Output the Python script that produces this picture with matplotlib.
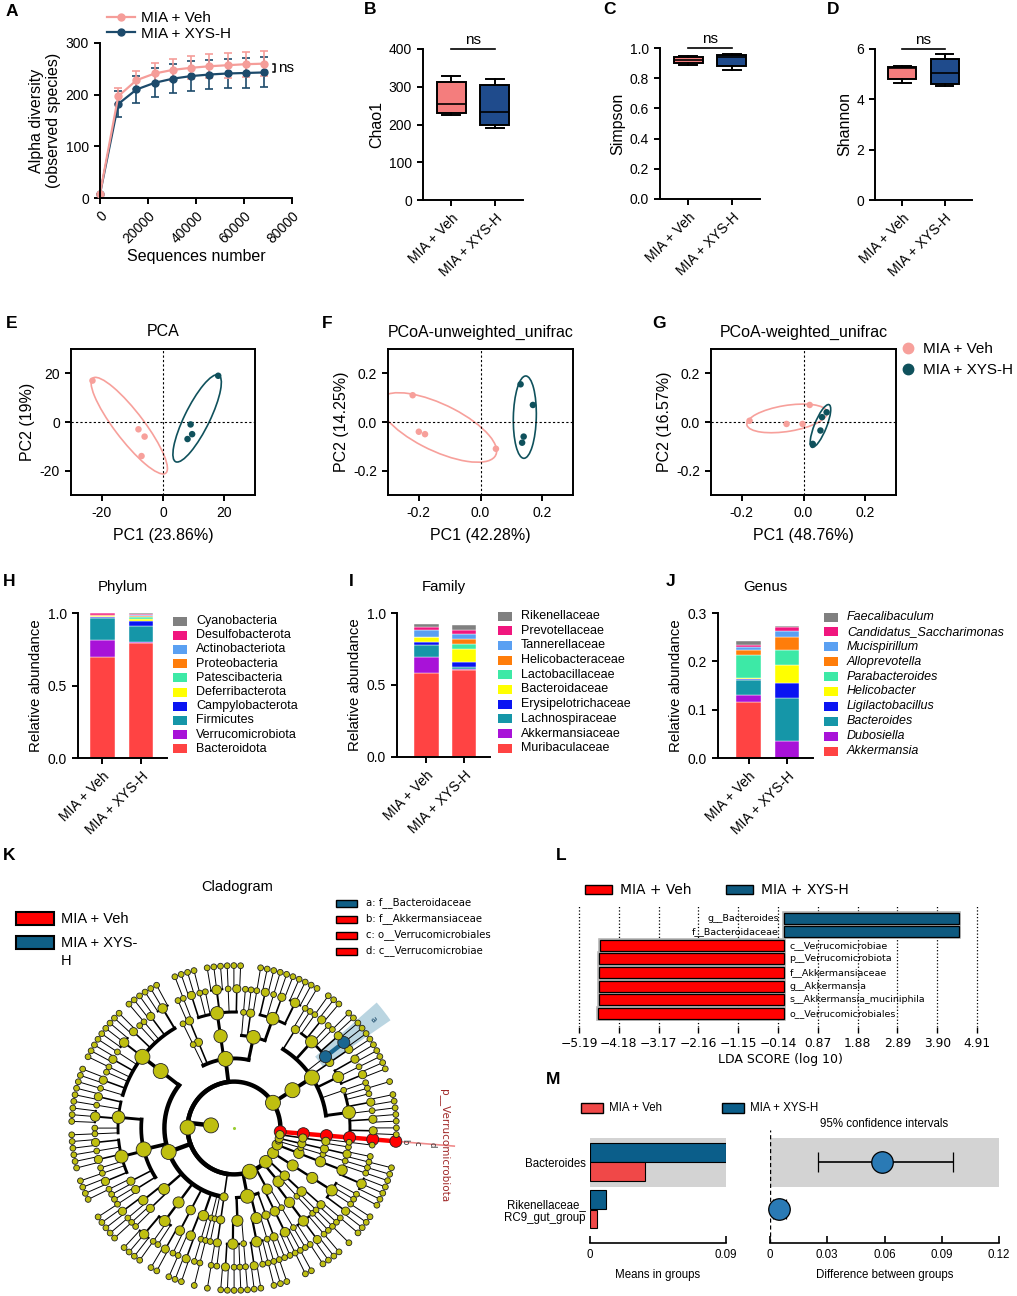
import numpy as np
import matplotlib
matplotlib.use("Agg")
import matplotlib.pyplot as plt
from matplotlib.patches import Ellipse, Rectangle, Wedge
from matplotlib.lines import Line2D

plt.rcParams["font.family"] = ["Liberation Sans", "DejaVu Sans"]
plt.rcParams["axes.unicode_minus"] = False
plt.rcParams["axes.linewidth"] = 1.4
plt.rcParams["xtick.major.width"] = 1.4
plt.rcParams["ytick.major.width"] = 1.4
plt.rcParams["xtick.major.size"] = 4.5
plt.rcParams["ytick.major.size"] = 4.5

W, H = 1017, 1296

# ---------------- data ----------------
groups = ["MIA + Veh", "MIA + XYS-H"]

# A: rarefaction
seq_number = [0, 7600, 15200, 22800, 30400, 38000, 45600, 53200, 60800, 68400]
obs_veh = [8, 197, 228, 241, 248, 252, 255, 257, 259, 260]
obs_veh_sd = [0, 16, 18, 20, 21, 22, 23, 24, 24, 24]
obs_xys = [8, 182, 210, 223, 231, 236, 239, 241, 242, 243]
obs_xys_sd = [0, 25, 27, 28, 28, 29, 29, 29, 29, 29]

# B-D: whislo, q1, median, q3, whishi
chao1_veh = [225, 230, 253, 313, 328]
chao1_xys = [192, 198, 234, 304, 321]
simpson_veh = [0.887, 0.900, 0.923, 0.940, 0.949]
simpson_xys = [0.856, 0.878, 0.938, 0.951, 0.962]
shannon_veh = [4.64, 4.79, 5.23, 5.30, 5.34]
shannon_xys = [4.52, 4.62, 5.06, 5.60, 5.79]

# E-G: ordination scores
pca_veh_x = [-23, -8, -6, -7]
pca_veh_y = [17, -3, -6, -14]
pca_xys_x = [18, 9, 9.5, 8]
pca_xys_y = [19, -1, -5, -7]
unw_veh_x = [-0.22, -0.20, -0.18, 0.05]
unw_veh_y = [0.11, -0.04, -0.05, -0.11]
unw_xys_x = [0.13, 0.17, 0.14, 0.135]
unw_xys_y = [0.155, 0.07, -0.06, -0.085]
wu_veh_x = [-0.175, -0.055, -0.003, 0.02]
wu_veh_y = [0.005, -0.008, -0.008, 0.07]
wu_xys_x = [0.075, 0.06, 0.055, 0.03]
wu_xys_y = [0.04, 0.02, -0.035, -0.09]

# H-J: relative abundance, bottom to top
phylum_names = ["Bacteroidota", "Verrucomicrobiota", "Firmicutes", "Campylobacterota",
                "Deferribacterota", "Patescibacteria", "Proteobacteria",
                "Actinobacteriota", "Desulfobacterota", "Cyanobacteria"]
phylum_veh = [0.700, 0.112, 0.155, 0.003, 0.006, 0.004, 0.005, 0.004, 0.008, 0.003]
phylum_xys = [0.795, 0.002, 0.115, 0.035, 0.014, 0.010, 0.008, 0.008, 0.008, 0.005]

family_names = ["Muribaculaceae", "Akkermansiaceae", "Lachnospiraceae", "Erysipelotrichaceae",
                "Bacteroidaceae", "Lactobacillaceae", "Helicobacteraceae", "Tannerellaceae",
                "Prevotellaceae", "Rikenellaceae"]
family_veh = [0.582, 0.115, 0.078, 0.027, 0.028, 0.002, 0.003, 0.050, 0.016, 0.023]
family_xys = [0.606, 0.002, 0.014, 0.037, 0.094, 0.030, 0.037, 0.033, 0.032, 0.034]

genus_names = ["Akkermansia", "Dubosiella", "Bacteroides", "Ligilactobacillus", "Helicobacter",
               "Parabacteroides", "Alloprevotella", "Mucispirillum",
               "Candidatus_Saccharimonas", "Faecalibaculum"]
genus_veh = [0.115, 0.016, 0.031, 0.002, 0.002, 0.048, 0.009, 0.006, 0.005, 0.009]
genus_xys = [0.0005, 0.034, 0.0895, 0.031, 0.038, 0.030, 0.027, 0.012, 0.010, 0.0005]

# K: cladogram (phylum > class > order > family > genus; int = number of leaf children)
clado_tree = [
    [[[[1]]]],                                                              # Verrucomicrobiota
    [[[[2, 2, 1, 2, 0, 1], [0], [2, 1, 2], [2], [1], [2, 1, 0, 2, 1], [0, 1]]]],  # Bacteroidota
    [                                                                       # Firmicutes
        [[[3, 2, 1, 2], [1, 0], [0]], [[2, 1, 3, 0, 1, 2]], [[1, 0]], [0]],
        [[[3, 2, 1, 0, 2, 3, 1, 2, 1, 0, 2, 1]],
         [[2, 1, 3, 0, 1], [2, 1, 2, 0, 1, 2], [1, 0], [0, 1]],
         [[2, 1], [1, 0]], [[3, 1, 0]], [[2, 0]], [[1, 2], [0]], [[1]], [0]],
        [[[1, 0]]],
    ],
    [[[[2, 1, 1], [1]], [[2, 0, 1], [1]], [[1, 0]]], [[[0, 1, 1]], [[0]]]],  # Proteobacteria
    [[[[1, 2, 1]], [[0]]], [[[1], [0, 1]]]],                                # Actinobacteriota
    [[[[2, 1, 0, 1]]]],                                                     # Desulfobacterota
    [[[[3, 1]]]],                                                           # Campylobacterota
    [[[[1]]]],                                                              # Deferribacterota
    [[[[1, 0]]]],                                                           # Patescibacteria
    [[[0, 1]]],                                                             # Cyanobacteria
]
clado_labels = ["a: f__Bacteroidaceae", "b: f__Akkermansiaceae",
                "c: o__Verrucomicrobiales", "d: c__Verrucomicrobiae"]

# L: LEfSe
lda_names = ["g__Bacteroides", "f__Bacteroidaceae", "c__Verrucomicrobiae",
             "p__Verrucomicrobiota", "f__Akkermansiaceae", "g__Akkermansia",
             "s__Akkermansia_muciniphila", "o__Verrucomicrobiales"]
lda_scores = [4.46, 4.46, -4.66, -4.67, -4.68, -4.68, -4.69, -4.70]
lda_ticks = [-5.19, -4.18, -3.17, -2.16, -1.15, -0.14, 0.87, 1.88, 2.89, 3.90, 4.91]

# M: STAMP
stamp_names = ["Bacteroides", "Rikenellaceae_\nRC9_gut_group"]
stamp_mean_veh = [0.0364, 0.0046]
stamp_mean_xys = [0.0900, 0.0104]
stamp_diff = [0.0586, 0.0049]
stamp_lo = [0.0252, 0.0015]
stamp_hi = [0.0959, 0.0085]

# ---------------- colours ----------------
VEH = "#F59D99"
XYS = "#1C4A6B"
BOX_VEH = "#F47D7D"
BOX_XYS = "#1F4B8C"
PC_VEH = "#F7A09B"
PC_XYS = "#0F515C"
STACK = ["#FF4343", "#A812D8", "#1596A8", "#0A14F2", "#FFFF00",
         "#3DE9A6", "#FF7D0A", "#5AA0F2", "#F0167E", "#808080"]
LDA_VEH = "#FF0000"
LDA_XYS = "#0E5A80"
M_VEH = "#F04848"
M_XYS = "#0B5E8A"
M_PT = "#2A7AB5"
CLADE = "#BFBF10"

fig = plt.figure(figsize=(W / 100, H / 100), dpi=100)


def box(l, t, r, b):
    return fig.add_axes([l / W, 1 - b / H, (r - l) / W, (b - t) / H])


ov = fig.add_axes([0, 0, 1, 1])
ov.set_zorder(10)
ov.set_xlim(0, W)
ov.set_ylim(H, 0)
ov.axis("off")


def clean(ax):
    ax.spines["top"].set_visible(False)
    ax.spines["right"].set_visible(False)


def rot_labels(ax, labels, size=10):
    ax.set_xticklabels(labels, rotation=45, ha="right", rotation_mode="anchor", fontsize=size)


# ---------------- A ----------------
axA = box(100, 43, 292, 198)
for ys, sd, c in [(obs_xys, obs_xys_sd, XYS), (obs_veh, obs_veh_sd, VEH)]:
    cont = axA.errorbar(seq_number, ys, yerr=sd, color=c, marker="o", ms=5, lw=1.6,
                        capsize=3, elinewidth=1.2, capthick=1.2)
    for art in cont.get_children():
        art.set_clip_on(False)
axA.set_xlim(0, 80000)
axA.set_ylim(0, 300)
axA.set_xticks([0, 20000, 40000, 60000, 80000])
rot_labels(axA, ["0", "20000", "40000", "60000", "80000"])
axA.set_yticks([0, 100, 200, 300])
axA.tick_params(labelsize=10)
clean(axA)
axA.set_xlabel("Sequences number", fontsize=11.5, labelpad=2)
axA.set_ylabel("Alpha diversity\n(observed species)", fontsize=11.5, labelpad=3)
x_end = seq_number[-1] + 3500
axA.plot([x_end, x_end + 1200, x_end + 1200, x_end],
         [obs_veh[-1], obs_veh[-1], obs_xys[-1], obs_xys[-1]], color="black", lw=1.1, clip_on=False)
axA.text(x_end + 2200, (obs_veh[-1] + obs_xys[-1]) / 2, "ns", fontsize=11, va="center")
handlesA = [Line2D([], [], color=VEH, marker="o", ms=5, lw=1.6),
            Line2D([], [], color=XYS, marker="o", ms=5, lw=1.6)]
fig.legend(handlesA, groups, loc="upper left", bbox_to_anchor=(107 / W, 1 - 11 / H),
           frameon=False, fontsize=11, handlelength=1.8, handletextpad=0.4,
           labelspacing=0.12, borderpad=0, borderaxespad=0)


# ---------------- B-D ----------------
def alpha_box(rect, veh, xys, ticks, ticklabels, ylabel):
    ax = box(*rect)
    stats = [dict(whislo=s[0], q1=s[1], med=s[2], q3=s[3], whishi=s[4], fliers=[])
             for s in (veh, xys)]
    bp = ax.bxp(stats, positions=[1, 2], widths=0.66, patch_artist=True, showfliers=False,
                boxprops=dict(lw=1.4, edgecolor="black"),
                medianprops=dict(color="black", lw=1.2),
                whiskerprops=dict(lw=1.4), capprops=dict(lw=1.4), capwidths=0.42)
    for patch, c in zip(bp["boxes"], [BOX_VEH, BOX_XYS]):
        patch.set_facecolor(c)
    ax.set_xlim(0.35, 2.65)
    ax.set_ylim(0, ticks[-1])
    ax.set_yticks(ticks)
    ax.set_yticklabels(ticklabels, fontsize=10)
    ax.set_xticks([1, 2])
    rot_labels(ax, groups)
    clean(ax)
    ax.set_ylabel(ylabel, fontsize=11.5, labelpad=3)
    ax.plot([1, 2], [ticks[-1], ticks[-1]], color="black", lw=1.2, clip_on=False)
    ax.annotate("ns", xy=(1.5, ticks[-1]), xytext=(0, 1.5), textcoords="offset points",
                ha="center", va="bottom", fontsize=11)
    return ax


alpha_box((423, 49, 523, 200), chao1_veh, chao1_xys, [0, 100, 200, 300, 400],
          ["0", "100", "200", "300", "400"], "Chao1")
alpha_box((660, 48, 760, 199), simpson_veh, simpson_xys, [0, 0.2, 0.4, 0.6, 0.8, 1.0],
          ["0.0", "0.2", "0.4", "0.6", "0.8", "1.0"], "Simpson")
alpha_box((875, 49, 972, 200), shannon_veh, shannon_xys, [0, 2, 4, 6],
          ["0", "2", "4", "6"], "Shannon")


# ---------------- E-G ----------------
def conf_ellipse(ax, xs, ys, color):
    pts = np.column_stack([xs, ys])
    center = pts.mean(axis=0)
    vals, vecs = np.linalg.eigh(np.cov(pts.T))
    a = 1.5 * np.sqrt(vals[1])
    b = max(1.6 * np.sqrt(max(vals[0], 0)), 0.22 * a)
    ang = np.degrees(np.arctan2(vecs[1, 1], vecs[0, 1]))
    ax.add_patch(Ellipse(center, 2 * a, 2 * b, angle=ang, fill=False, ec=color, lw=1.2))


def pc_panel(rect, title, xlabel, ylabel, lim, ticks, ticklabels, veh, xys):
    ax = box(*rect)
    ax.axhline(0, ls=(0, (2, 2)), color="black", lw=0.8)
    ax.axvline(0, ls=(0, (2, 2)), color="black", lw=0.8)
    for (xs, ys), c in [(veh, PC_VEH), (xys, PC_XYS)]:
        ax.scatter(xs, ys, s=22, color=c, edgecolors="none", zorder=3)
        conf_ellipse(ax, xs, ys, c)
    ax.set_xlim(-lim, lim)
    ax.set_ylim(-lim, lim)
    ax.set_xticks(ticks)
    ax.set_xticklabels(ticklabels, fontsize=10)
    ax.set_yticks(ticks)
    ax.set_yticklabels(ticklabels, fontsize=10)
    ax.set_title(title, fontsize=11.5, pad=9)
    ax.set_xlabel(xlabel, fontsize=11.5, labelpad=6)
    ax.set_ylabel(ylabel, fontsize=11.5, labelpad=3)
    return ax


pc_panel((71, 349, 255, 495), "PCA", "PC1 (23.86%)", "PC2 (19%)", 30, [-20, 0, 20],
         ["-20", "0", "20"], (pca_veh_x, pca_veh_y), (pca_xys_x, pca_xys_y))
pc_panel((388, 349, 573, 495), "PCoA-unweighted_unifrac", "PC1 (42.28%)", "PC2 (14.25%)",
         0.3, [-0.2, 0, 0.2], ["-0.2", "0.0", "0.2"], (unw_veh_x, unw_veh_y), (unw_xys_x, unw_xys_y))
pc_panel((711, 349, 896, 495), "PCoA-weighted_unifrac", "PC1 (48.76%)", "PC2 (16.57%)",
         0.3, [-0.2, 0, 0.2], ["-0.2", "0.0", "0.2"], (wu_veh_x, wu_veh_y), (wu_xys_x, wu_xys_y))
handlesG = [Line2D([], [], ls="none", marker="o", ms=7.5, color=PC_VEH),
            Line2D([], [], ls="none", marker="o", ms=7.5, color=PC_XYS)]
fig.legend(handlesG, groups, loc="upper left", bbox_to_anchor=(900 / W, 1 - 342 / H),
           frameon=False, fontsize=11, handlelength=1.0, handletextpad=0.5,
           labelspacing=0.45, borderpad=0, borderaxespad=0)


# ---------------- H-J ----------------
def stack_panel(rect, xlim, title, names, veh, xys, ticks, ticklabels, leg_x, leg_y0, leg_dy,
                italic=False):
    ax = box(*rect)
    bottoms = np.zeros(2)
    for v1, v2, c in zip(veh, xys, STACK):
        vals = np.array([v1, v2])
        ax.bar([1, 2], vals, bottom=bottoms, width=0.64, color=c, edgecolor="white", lw=0.3)
        bottoms += vals
    ax.set_xlim(*xlim)
    ax.set_ylim(0, ticks[-1])
    ax.set_yticks(ticks)
    ax.set_yticklabels(ticklabels, fontsize=10)
    ax.set_xticks([1, 2])
    rot_labels(ax, groups)
    clean(ax)
    ax.set_ylabel("Relative abundance", fontsize=10.8, labelpad=3)
    ax.set_title(title, fontsize=10.8, pad=16)
    for i, (name, c) in enumerate(zip(names[::-1], STACK[::-1])):
        y = leg_y0 + i * leg_dy
        ov.add_patch(Rectangle((leg_x, y - 4.5), 14, 9, color=c, lw=0))
        ov.text(leg_x + 23, y, name, fontsize=9, va="center", ha="left",
                style="italic" if italic else "normal")
    return ax


stack_panel((78, 613, 167, 758), (0.38, 2.67), "Phylum", phylum_names, phylum_veh, phylum_xys,
            [0, 0.5, 1.0], ["0.0", "0.5", "1.0"], 173, 621, 14.2)
stack_panel((397, 613, 490, 757), (0.22, 2.68), "Family", family_names, family_veh, family_xys,
            [0, 0.5, 1.0], ["0.0", "0.5", "1.0"], 498, 616, 14.7)
stack_panel((718, 613, 813, 758), (0.2, 2.68), "Genus", genus_names, genus_veh, genus_xys,
            [0, 0.1, 0.2, 0.3], ["0.0", "0.1", "0.2", "0.3"], 824, 617, 14.9, italic=True)

# ---------------- K: cladogram ----------------
R_STEP = 23.2
CLADO_START = -4.7


def radius(level):
    return R_STEP * (level + 1)


def count_leaves(node):
    if isinstance(node, int):
        return max(node, 1)
    return sum(count_leaves(k) for k in node)


leaf_step = 360.0 / count_leaves(clado_tree)
leaf_pos = [0]


def build(node, level):
    if isinstance(node, int) and node == 0:
        ang = CLADO_START + leaf_pos[0] * leaf_step
        leaf_pos[0] += 1
        return dict(level=level, angle=ang, n=1, kids=[], hl=None)
    src = [0] * node if isinstance(node, int) else node
    kids = [build(k, level + 1) for k in src]
    return dict(level=level, angle=(kids[0]["angle"] + kids[-1]["angle"]) / 2,
                n=sum(k["n"] for k in kids), kids=kids, hl=None)


kingdom = build(clado_tree, 0)


def mark(node, color, deep=True):
    node["hl"] = color
    if deep:
        for k in node["kids"]:
            mark(k, color)


mark(kingdom["kids"][0], "red")
bact_fam = kingdom["kids"][1]["kids"][0]["kids"][0]["kids"][4]
mark(bact_fam, "blue", deep=False)
mark(bact_fam["kids"][0], "blue", deep=False)

HL = {"red": "#FF0000", "blue": "#1A6690"}

axK = box(0, 955, 560, 1296)
axK.set_xlim(-234, 326)
axK.set_ylim(-168, 173)
axK.axis("off")


def pol(r, a):
    t = np.radians(a)
    return r * np.cos(t), r * np.sin(t)


def lw_for(n):
    return min(0.7 + 0.45 * np.log2(n), 3.2)


all_nodes = []


def draw(node):
    all_nodes.append(node)
    if not node["kids"]:
        return
    r_p = radius(node["level"])
    angs = [k["angle"] for k in node["kids"]]
    r_arc = r_p
    if node["level"] == 0:
        r_arc = radius(1)
        x0, y0 = pol(r_p, node["angle"])
        x1, y1 = pol(r_arc, node["angle"])
        axK.plot([x0, x1], [y0, y1], color="black", lw=lw_for(node["n"]), zorder=1,
                 solid_capstyle="butt")
    if len(angs) > 1:
        t = np.linspace(min(angs), max(angs), 200)
        xs, ys = pol(r_arc, t)
        axK.plot(xs, ys, color="black", lw=lw_for(node["n"]), zorder=1)
    for k in node["kids"]:
        x0, y0 = pol(r_arc, k["angle"])
        x1, y1 = pol(radius(k["level"]), k["angle"])
        if k["hl"] and node["hl"] == k["hl"]:
            axK.plot([x0, x1], [y0, y1], color=HL[k["hl"]], lw=3.2, zorder=2)
        else:
            axK.plot([x0, x1], [y0, y1], color="black", lw=lw_for(k["n"]), zorder=1)
        draw(k)


draw(kingdom)

red_ang = kingdom["kids"][0]["angle"]
blue_ang = bact_fam["angle"]
axK.add_patch(Wedge((0, 0), 190, blue_ang - 3.4, blue_ang + 3.4, width=82,
                    color="#A9CBDA", alpha=0.8, zorder=0, lw=0))
rx0, ry0 = pol(radius(6), red_ang)
rx1, ry1 = pol(221, red_ang)
axK.plot([rx0, rx1], [ry0, ry1], color="#F08C8C", lw=1.2, zorder=0)

xs, ys, sizes, cols = [], [], [], []
for nd in all_nodes:
    x, y = pol(radius(nd["level"]), nd["angle"])
    xs.append(x)
    ys.append(y)
    if nd["hl"]:
        d = 12
        cols.append(HL[nd["hl"]])
    else:
        d = 5.8 if nd["n"] == 1 else min(6.0 + 2.2 * np.log2(nd["n"]), 15)
        cols.append(CLADE)
    sizes.append((d * 0.72) ** 2)
axK.scatter(xs, ys, s=sizes, c=cols, edgecolors="#222222", linewidths=0.6, zorder=3)
axK.scatter([0], [0], s=1.5, color="#9ACD32", zorder=3)

tx, ty = pol(176, blue_ang)
axK.text(tx, ty, "a", fontsize=6, family="DejaVu Sans", color="#1A4A6A",
         rotation=blue_ang - 90, ha="center", va="center")
for r_lab, lab in [(171, "b"), (184, "c"), (199, "d")]:
    tx, ty = pol(r_lab, red_ang)
    axK.text(tx, ty, lab, fontsize=6, family="DejaVu Sans", rotation=-90,
             ha="center", va="center", color="#333333")
tx, ty = pol(211, red_ang)
axK.text(tx, ty, "p__Verrucomicrobiota", fontsize=7.5, family="DejaVu Sans",
         color="#A02828", rotation=-90, ha="center", va="center")

ov.text(237, 887, "Cladogram", fontsize=10.5, ha="center", va="center")
for y, c in [(912, HL["red"]), (936, "#0F5F86")]:
    ov.add_patch(Rectangle((16, y), 38, 13, facecolor=c, edgecolor="black", lw=1.5))
ov.text(61, 919, "MIA + Veh", fontsize=10.5, va="center")
ov.text(61, 943, "MIA + XYS-", fontsize=10.5, va="center")
ov.text(61, 961, "H", fontsize=10.5, va="center")
for i, lab in enumerate(clado_labels):
    y = 903 + 16 * i
    c = "#0F5F86" if i == 0 else HL["red"]
    ov.add_patch(Rectangle((336, y - 3.5), 21, 7, facecolor=c, edgecolor="black", lw=1.0))
    ov.text(366, y, lab, fontsize=7.3, family="DejaVu Sans", va="center")

# ---------------- L: LDA ----------------
axL = box(560, 905, 1000, 1027)
ypos = np.arange(len(lda_names))
lda_colors = [LDA_XYS if s > 0 else LDA_VEH for s in lda_scores]
axL.barh(ypos, lda_scores, height=0.8, color="none", edgecolor="#B4B4B4", lw=2.6, zorder=2)
axL.barh(ypos, lda_scores, height=0.8, color=lda_colors, edgecolor="black", lw=0.9, zorder=3)
for y, s, name in zip(ypos, lda_scores, lda_names):
    axL.text(-0.12 if s > 0 else 0.15, y, name, ha="right" if s > 0 else "left", va="center",
             fontsize=6.8, family="DejaVu Sans", zorder=4)
axL.set_xlim(-5.67, 5.49)
axL.set_ylim(8.0, -0.96)
axL.set_xticks(lda_ticks)
axL.set_xticklabels([f"{t:.2f}".replace("-", "\u2212") for t in lda_ticks],
                    fontsize=8.8, family="DejaVu Sans")
axL.set_yticks([])
axL.grid(axis="x", ls=":", color="black", lw=0.9)
axL.set_axisbelow(True)
for sp in axL.spines.values():
    sp.set_visible(False)
axL.tick_params(axis="x", length=4, width=1.0, pad=3)
axL.set_xlabel("LDA SCORE (log 10)", fontsize=9, family="DejaVu Sans", labelpad=2)
for x, c, lab in [(585, LDA_VEH, groups[0]), (726, LDA_XYS, groups[1])]:
    ov.add_patch(Rectangle((x, 885), 27, 9, facecolor=c, edgecolor="black", lw=1.0))
    ov.text(x + 35, 890, lab, fontsize=10, family="DejaVu Sans", va="center")

# ---------------- M: STAMP ----------------
rows = np.arange(len(stamp_names))
axM1 = box(590, 1130, 726, 1243)
axM2 = box(770, 1130, 999, 1243)
for ax in (axM1, axM2):
    for r in rows[::2]:
        ax.axhspan(r - 0.52, r + 0.52, color="#D3D3D3", lw=0, zorder=0)
    ax.set_ylim(1.72, -0.68)
    for side in ("top", "right", "left"):
        ax.spines[side].set_visible(False)
    ax.spines["bottom"].set_linewidth(1.2)
    ax.tick_params(axis="x", direction="in", length=5, width=1.2, labelsize=8.3, pad=4)
axM1.barh(rows - 0.2, stamp_mean_xys, height=0.4, color=M_XYS, edgecolor="black", lw=0.8)
axM1.barh(rows + 0.21, stamp_mean_veh, height=0.4, color=M_VEH, edgecolor="black", lw=0.8)
axM1.set_xlim(0, 0.09)
axM1.set_xticks([0, 0.09])
axM1.set_xticklabels(["0", "0.09"])
axM1.set_yticks(rows)
axM1.set_yticklabels(stamp_names, fontsize=8.3)
axM1.tick_params(axis="y", length=0, pad=3)
axM1.set_xlabel("Means in groups", fontsize=8.3, labelpad=6)

diff = np.array(stamp_diff)
cont = axM2.errorbar(diff, rows, xerr=[diff - np.array(stamp_lo), np.array(stamp_hi) - diff],
                     fmt="o", ms=15.5, mfc=M_PT, mec="black", mew=0.9, ecolor="black",
                     elinewidth=1.2, capsize=7.5, capthick=1.2, zorder=3)
for art in cont.get_children():
    art.set_clip_on(False)
cont[0].set_clip_on(False)
axM2.axvline(0, ls=(0, (3, 2)), color="black", lw=1.0, zorder=1)
axM2.set_xlim(0, 0.12)
axM2.set_xticks([0, 0.03, 0.06, 0.09, 0.12])
axM2.set_xticklabels(["0", "0.03", "0.06", "0.09", "0.12"])
axM2.set_yticks([])
axM2.set_title("95% confidence intervals", fontsize=8.3, pad=2)
axM2.set_xlabel("Difference between groups", fontsize=8.3, labelpad=6)
for x, c, lab in [(581, M_VEH, groups[0]), (722, M_XYS, groups[1])]:
    ov.add_patch(Rectangle((x, 1103), 22, 10, facecolor=c, edgecolor="black", lw=1.0))
    ov.text(x + 28, 1108, lab, fontsize=8.3, va="center")

# ---------------- panel letters ----------------
letters = [("A", 12, 12), ("B", 370, 10), ("C", 609, 10), ("D", 833, 10),
           ("E", 12, 324), ("F", 327, 324), ("G", 659, 324),
           ("H", 9, 581), ("I", 351, 581), ("J", 671, 582),
           ("K", 9, 855), ("L", 561, 856), ("M", 553, 1080)]
for lab, x, y in letters:
    ov.text(x, y, lab, fontsize=12.5, fontweight="bold", ha="center", va="center")

fig.savefig("out.png", dpi=100)
plt.close(fig)
